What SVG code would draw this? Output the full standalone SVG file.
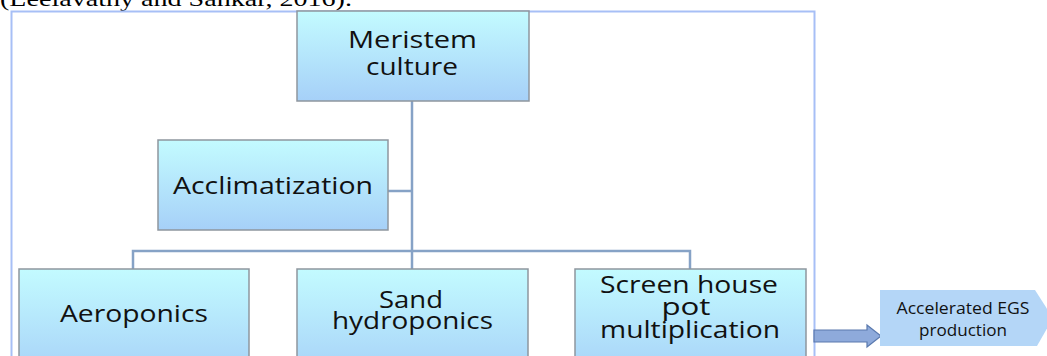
<svg xmlns="http://www.w3.org/2000/svg" width="1047" height="356" viewBox="0 0 1047 356">
<defs>
<linearGradient id="boxg" x1="0" y1="0" x2="0" y2="1">
<stop offset="0" stop-color="#c3fbff"/>
<stop offset="1" stop-color="#a6d0f8"/>
</linearGradient>
<style>
.box{fill:url(#boxg);stroke:#8e969e;stroke-width:1.5}
.lbl{font-family:"Open Sans","DejaVu Sans",sans-serif;font-size:23px;fill:#111;text-anchor:middle}
.small{font-family:"Open Sans","DejaVu Sans",sans-serif;font-size:17px;fill:#111;text-anchor:middle}
.conn{stroke:#86a2c6;stroke-width:2.5;fill:none}
</style>
</defs>
<rect width="1047" height="356" fill="#ffffff"/>
<text x="0" y="6" font-family="Liberation Serif, serif" font-size="22" fill="#000" textLength="352" lengthAdjust="spacingAndGlyphs">(Leelavathy and Sankar, 2016).</text>
<rect id="frame" x="11.5" y="11.5" width="803" height="360" fill="none" stroke="#a7bff6" stroke-width="2"/>
<g id="connectors">
<line class="conn" x1="412" y1="101" x2="412" y2="269"/>
<line class="conn" x1="388" y1="191" x2="412" y2="191"/>
<polyline class="conn" points="133,269 133,251 690,251 690,269"/>
<polygon points="814,330 867,330 867,325 881,336 867,347 867,342 814,342" fill="#8eaadb" stroke="#5a79ae" stroke-width="1.2"/>
</g>
<g id="meristem">
<rect class="box" x="297" y="11" width="232" height="90"/>
<text class="lbl" x="412.5" y="48" textLength="129" lengthAdjust="spacingAndGlyphs">Meristem</text>
<text class="lbl" x="412" y="75" textLength="92" lengthAdjust="spacingAndGlyphs">culture</text>
</g>
<g id="acclimatization">
<rect class="box" x="158" y="140" width="230" height="90"/>
<text class="lbl" x="273" y="194" textLength="200" lengthAdjust="spacingAndGlyphs">Acclimatization</text>
</g>
<g id="aeroponics">
<rect class="box" x="19" y="269" width="230" height="110"/>
<text class="lbl" x="134" y="322" textLength="148" lengthAdjust="spacingAndGlyphs">Aeroponics</text>
</g>
<g id="sand">
<rect class="box" x="297" y="269" width="231" height="110"/>
<text class="lbl" x="411" y="308" textLength="64" lengthAdjust="spacingAndGlyphs">Sand</text>
<text class="lbl" x="412.5" y="329" textLength="161" lengthAdjust="spacingAndGlyphs">hydroponics</text>
</g>
<g id="screen">
<rect class="box" x="575" y="269" width="231" height="110"/>
<text class="lbl" x="689" y="293" textLength="178" lengthAdjust="spacingAndGlyphs">Screen house</text>
<text class="lbl" x="686" y="315" textLength="49" lengthAdjust="spacingAndGlyphs">pot</text>
<text class="lbl" x="690" y="338" textLength="180" lengthAdjust="spacingAndGlyphs">multiplication</text>
</g>
<g id="egs">
<polygon points="880,290 1035,290 1053,318 1037,346 880,346" fill="#b4d6f7"/>
<text class="small" x="963" y="314" textLength="133" lengthAdjust="spacingAndGlyphs">Accelerated EGS</text>
<text class="small" x="963" y="336" textLength="88" lengthAdjust="spacingAndGlyphs">production</text>
</g>
</svg>
